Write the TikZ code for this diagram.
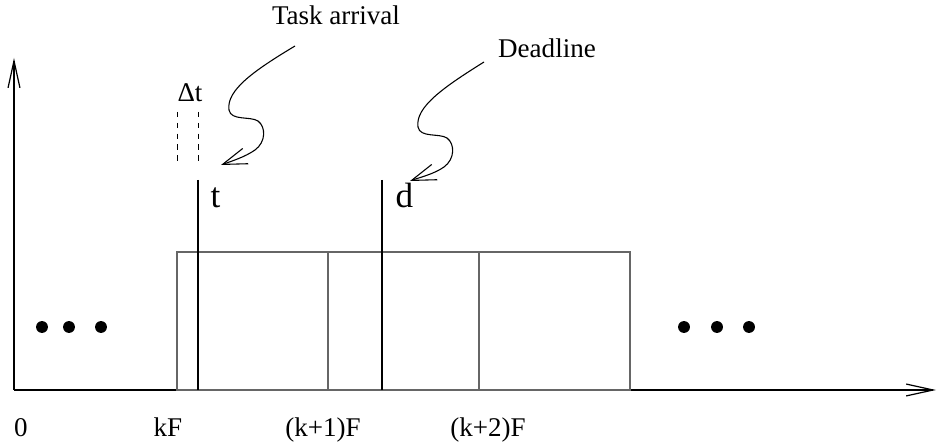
\documentclass[tikz,border=0pt]{standalone}
\usepackage{fontspec}
\setmainfont{Liberation Serif}
\usepackage{tikz}
\usetikzlibrary{arrows.meta,positioning,calc}
\tikzset{
  tl/axis/.style={line width=0.45pt, -{Straight Barb[length=10pt, width=4.4pt]}},
  tl/frame/.style={draw=black!60, line width=0.4pt},
  tl/instant/.style={line width=0.9pt},
  tl/window/.style={line width=0.35pt, dash pattern=on 2pt off 2pt},
  tl/tick/.style={font=\fontsize{10}{12}\selectfont, anchor=base, inner sep=0pt},
  tl/mark/.style={font=\fontsize{13}{15}\selectfont, anchor=base west, inner sep=0pt},
  tl/note/.style={font=\fontsize{10}{12}\selectfont, anchor=base, inner sep=0pt},
  tl/squig/.style={line width=0.4pt, -{Straight Barb[length=9pt, width=6pt]}},
  tl/dot/.style={circle, fill, inner sep=0pt, minimum size=4.4pt}
}

\begin{document}
\begin{tikzpicture}[x=0.37pt, y=-0.37pt]
  \useasboundingbox (0,0) rectangle (937,445);

  % axes
  \coordinate (origin) at (14,390);
  \coordinate (ytop) at (14,58);
  \coordinate (xend) at (936,390);
  \draw[tl/axis] (origin) -- (ytop);
  \draw[tl/axis] (origin) -- (xend);

  % frames
  \coordinate (f0) at (177,252);
  \coordinate (f3) at (630,390);
  \draw[tl/frame] (f0) rectangle (f3);
  \draw[tl/frame] (328,252) -- (328,390);
  \draw[tl/frame] (479,252) -- (479,390);

  % arrival and deadline
  \coordinate (ttop) at (198,180);
  \coordinate (tbot) at (198,390);
  \coordinate (dtop) at (382,180);
  \coordinate (dbot) at (382,390);
  \draw[tl/instant] (ttop) -- (tbot);
  \draw[tl/instant] (dtop) -- (dbot);
  \node[tl/mark] (tlab) at (210,208) {t};
  \node[tl/mark] (dlab) at (395,208) {d};

  % delta t window
  \draw[tl/window] (177,112) -- (177,165);
  \draw[tl/window] (198,112) -- (198,165);
  \node[tl/note] (dt) at (190,102) {Δt};

  % notes
  \node[tl/note] (arrival) at (336,25) {Task arrival};
  \node[tl/note] (deadline) at (547,58) {Deadline};
  \coordinate (astart) at (295,46);
  \coordinate (atip) at (221,165);
  \coordinate (dstart) at (484,62);
  \coordinate (dtip) at (410,181);
  \draw[tl/squig] (astart) .. controls (255,70) and (226,90) .. (229,110)
    .. controls (231,121) and (250,116) .. (258,121)
    .. controls (266,127) and (266,142) .. (255,150)
    .. controls (245,157) and (232,161) .. (atip);
  \draw[tl/squig] (dstart) .. controls (444,87) and (415,107) .. (418,127)
    .. controls (420,138) and (439,133) .. (447,138)
    .. controls (455,144) and (455,159) .. (444,167)
    .. controls (434,174) and (421,177) .. (dtip);

  % ellipses
  \foreach \x/\n in {42/l1, 69/l2, 101/l3, 684/r1, 717/r2, 749/r3}
    \node[tl/dot] (\n) at (\x,327) {};

  % tick labels
  \node[tl/tick] (zero) at (21,437) {0};
  \node[tl/tick] (kF) at (168,437) {kF};
  \node[tl/tick] (k1F) at (323,437) {(k+1)F};
  \node[tl/tick] (k2F) at (488,437) {(k+2)F};
\end{tikzpicture}
\end{document}
